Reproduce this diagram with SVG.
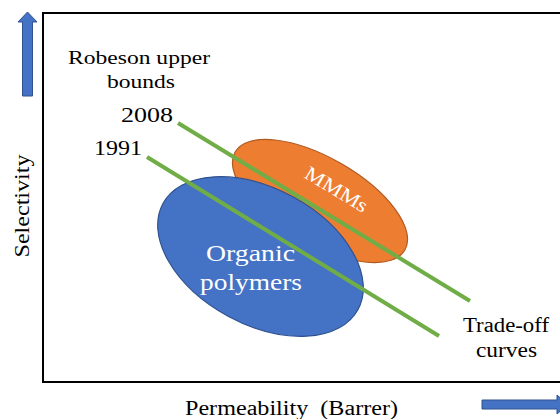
<svg xmlns="http://www.w3.org/2000/svg" width="560" height="419" viewBox="0 0 560 419">
<style>
  .t { fill: #000; }
  .w { fill: #fff; }
  .arrow { fill: #4472C4; stroke: #2F528F; stroke-width: 1; }
  .curve { stroke: #70AD47; stroke-width: 4; fill: none; }
</style>
<rect width="560" height="419" fill="#fff"/>
<g id="frame">
  <rect x="43" y="13" width="530" height="369" fill="none" stroke="#000" stroke-width="2"/>
</g>
<g id="axis-y-arrow">
  <polygon class="arrow" points="27.5,12 37,22 32.5,22 32.5,96 22.5,96 22.5,22 18,22"/>
</g>
<g id="axis-x-arrow">
  <polygon class="arrow" points="482,400 557,400 557,395 568,404.5 557,414 557,409 482,409"/>
</g>
<g font-family="Liberation Serif, DejaVu Serif, serif">
<g id="label-selectivity">
  <text class="t" font-size="22" transform="translate(28.5,206) rotate(-90)" text-anchor="middle" textLength="103" lengthAdjust="spacingAndGlyphs">Selectivity</text>
</g>
<g id="label-permeability">
  <text class="t" font-size="20" x="185" y="415" textLength="213" lengthAdjust="spacingAndGlyphs" xml:space="preserve">Permeability  (Barrer)</text>
</g>
<g id="label-robeson">
  <text class="t" font-size="18.5" x="68" y="64" textLength="142" lengthAdjust="spacingAndGlyphs">Robeson upper</text>
  <text class="t" font-size="18.5" x="107" y="88" textLength="68" lengthAdjust="spacingAndGlyphs">bounds</text>
</g>
<g id="node-mmms">
  <ellipse cx="320" cy="201" rx="98" ry="43" transform="rotate(30 320 201)" fill="#ED7D31" stroke="#AE5A21" stroke-width="1.2"/>
  <text class="w" font-size="20" transform="translate(333,195) rotate(31)" text-anchor="middle" textLength="70" lengthAdjust="spacingAndGlyphs">MMMs</text>
</g>
<g id="node-organic">
  <ellipse cx="260.5" cy="256.5" rx="111" ry="68" transform="rotate(28.5 260.5 256.5)" fill="#4472C4" stroke="#2F528F" stroke-width="1.2"/>
  <text class="w" font-size="24" x="250.5" y="261" text-anchor="middle" textLength="89" lengthAdjust="spacingAndGlyphs">Organic</text>
  <text class="w" font-size="24" x="251" y="290" text-anchor="middle" textLength="102" lengthAdjust="spacingAndGlyphs">polymers</text>
</g>
<g id="connectors">
  <line class="curve" x1="178" y1="123" x2="470" y2="301"/>
  <line class="curve" x1="147" y1="157" x2="439" y2="336"/>
</g>
<g id="label-2008">
  <text class="t" font-size="22" x="121" y="122" textLength="52" lengthAdjust="spacingAndGlyphs">2008</text>
</g>
<g id="label-1991">
  <text class="t" font-size="22" x="94" y="155" textLength="48" lengthAdjust="spacingAndGlyphs">1991</text>
</g>
<g id="label-tradeoff">
  <text class="t" font-size="20" x="463" y="332" textLength="86" lengthAdjust="spacingAndGlyphs">Trade-off</text>
  <text class="t" font-size="20" x="476" y="357" textLength="61" lengthAdjust="spacingAndGlyphs">curves</text>
</g>
</g>
</svg>
